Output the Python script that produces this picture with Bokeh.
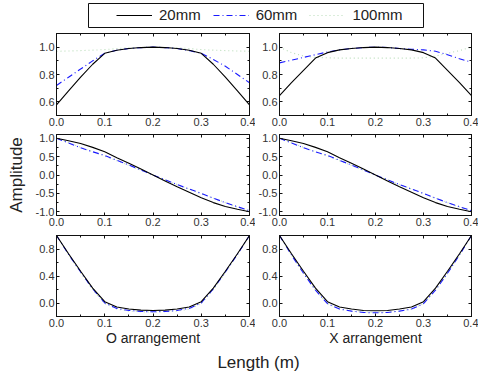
from bokeh.plotting import figure
from bokeh.layouts import column, row, gridplot
from bokeh.models import (Legend, LegendItem, LinearAxis, FixedTicker,
                          NumeralTickFormatter, CustomJSTickFormatter, Range1d, Label, Spacer)
from bokeh.embed import file_html
from bokeh.resources import INLINE

# ---------------- data ----------------
length_m = [0.0, 0.025, 0.05, 0.075, 0.1, 0.125, 0.15, 0.175, 0.2,
            0.225, 0.25, 0.275, 0.3, 0.325, 0.35, 0.375, 0.4]
series_labels = ["20mm", "60mm", "100mm"]
arrangements = ["O arrangement", "X arrangement"]
x_ticks = [0.0, 0.1, 0.2, 0.3, 0.4]
x_minor = [0.05, 0.15, 0.25, 0.35]

# mode 1
o1_20 = [0.578, 0.68, 0.78, 0.875, 0.955, 0.978, 0.99, 0.997, 1.0, 0.997, 0.99, 0.978, 0.955, 0.875, 0.78, 0.68, 0.578]
o1_60 = [0.72, 0.78, 0.84, 0.90, 0.955, 0.978, 0.99, 0.997, 1.0, 0.997, 0.99, 0.975, 0.955, 0.91, 0.86, 0.80, 0.74]
o1_100 = [0.97, 0.972, 0.975, 0.978, 0.982, 0.99, 0.995, 0.998, 1.0, 0.998, 0.995, 0.99, 0.982, 0.978, 0.975, 0.972, 0.97]
x1_20 = [0.645, 0.74, 0.83, 0.92, 0.96, 0.98, 0.99, 0.997, 1.0, 0.997, 0.99, 0.98, 0.96, 0.92, 0.83, 0.74, 0.645]
x1_60 = [0.885, 0.905, 0.925, 0.945, 0.965, 0.98, 0.99, 0.997, 1.0, 0.998, 0.99, 0.985, 0.98, 0.97, 0.945, 0.915, 0.89]
x1_100 = [1.0, 0.96, 0.935, 0.925, 0.922, 0.92, 0.92, 0.92, 0.92, 0.92, 0.92, 0.92, 0.922, 0.935, 0.955, 0.975, 1.0]

# mode 2
o2_20 = [1.0, 0.93, 0.855, 0.75, 0.63, 0.47, 0.32, 0.16, 0.0, -0.16, -0.32, -0.47, -0.62, -0.75, -0.855, -0.93, -1.0]
o2_60 = [1.0, 0.87, 0.74, 0.63, 0.53, 0.40, 0.27, 0.135, 0.0, -0.13, -0.26, -0.38, -0.50, -0.63, -0.75, -0.86, -0.97]
o2_100 = [1.0, 0.88, 0.75, 0.63, 0.51, 0.39, 0.26, 0.13, 0.0, -0.13, -0.26, -0.38, -0.51, -0.63, -0.75, -0.87, -0.98]
x2_20 = [1.0, 0.93, 0.855, 0.75, 0.63, 0.47, 0.32, 0.16, 0.0, -0.16, -0.32, -0.47, -0.62, -0.75, -0.855, -0.93, -1.0]
x2_60 = [1.0, 0.87, 0.74, 0.63, 0.53, 0.40, 0.27, 0.135, 0.0, -0.13, -0.26, -0.38, -0.50, -0.63, -0.75, -0.86, -0.97]
x2_100 = [1.0, 0.88, 0.75, 0.63, 0.51, 0.39, 0.26, 0.13, 0.0, -0.13, -0.26, -0.38, -0.51, -0.63, -0.75, -0.87, -0.98]

# mode 3
o3_20 = [1.0, 0.73, 0.47, 0.22, 0.02, -0.06, -0.09, -0.105, -0.11, -0.105, -0.09, -0.06, 0.02, 0.22, 0.47, 0.73, 1.0]
o3_60 = [1.0, 0.72, 0.46, 0.21, 0.0, -0.08, -0.11, -0.125, -0.13, -0.125, -0.11, -0.08, 0.0, 0.21, 0.46, 0.72, 1.0]
o3_100 = [1.0, 0.72, 0.45, 0.20, -0.01, -0.09, -0.12, -0.13, -0.135, -0.13, -0.12, -0.09, -0.01, 0.20, 0.45, 0.72, 1.0]
x3_20 = [1.0, 0.73, 0.47, 0.22, 0.02, -0.06, -0.09, -0.11, -0.115, -0.11, -0.09, -0.06, 0.02, 0.22, 0.47, 0.73, 1.0]
x3_60 = [1.0, 0.71, 0.44, 0.19, -0.01, -0.09, -0.12, -0.14, -0.145, -0.14, -0.12, -0.09, -0.01, 0.19, 0.44, 0.71, 1.0]
x3_100 = [1.0, 0.71, 0.44, 0.19, -0.01, -0.09, -0.12, -0.135, -0.14, -0.135, -0.12, -0.09, -0.01, 0.19, 0.44, 0.71, 1.0]

row_y_ranges = [(0.5, 1.1), (-1.1, 1.1), (-0.2, 1.0)]
row_y_major = [[0.6, 0.8, 1.0], [-1.0, -0.5, 0.0, 0.5, 1.0], [0.0, 0.4, 0.8]]
row_y_minor = [[0.5, 0.7, 0.9, 1.1], [-0.75, -0.25, 0.25, 0.75], [-0.2, 0.2, 0.6, 1.0]]

panel_data = [
    [(o1_20, o1_60, o1_100), (x1_20, x1_60, x1_100)],
    [(o2_20, o2_60, o2_100), (x2_20, x2_60, x2_100)],
    [(o3_20, o3_60, o3_100), (x3_20, x3_60, x3_100)],
]

# ---------------- styles ----------------
FONT = "Liberation Sans"
TXT = "#222222"
styles = [
    dict(line_color="#000000", line_width=1.1, line_dash="solid"),
    dict(line_color="#1a1aff", line_width=1.1, line_dash="6 3 1 3"),
    dict(line_color="#b8dcb8", line_width=1.1, line_dash="1 3"),
]
col_specs = [dict(width=255, left=56, right=6), dict(width=223, left=23, right=7)]
row_specs = [dict(height=100, top=3, bottom=15),
             dict(height=100, top=4, bottom=15),
             dict(height=118, top=5, bottom=32)]


def style_axis(ax, major_ticks, minor_ticks, show_labels=True):
    ax.ticker = FixedTicker(ticks=major_ticks, minor_ticks=minor_ticks)
    ax.major_tick_in = 3
    ax.major_tick_out = 0
    ax.minor_tick_in = 2
    ax.minor_tick_out = 0
    ax.axis_line_color = "#111111"
    ax.major_tick_line_color = "#111111"
    ax.minor_tick_line_color = "#111111"
    if show_labels:
        ax.formatter = NumeralTickFormatter(format="0.0")
        ax.major_label_text_font = FONT
        ax.major_label_text_font_size = "11px"
        ax.major_label_text_color = "#333333"
        ax.major_label_standoff = 2
    else:
        ax.formatter = CustomJSTickFormatter(code="return ''")
        ax.major_label_text_font_size = "0px"
        ax.major_label_standoff = 0


grid_children = []
for ri in range(3):
    row_children = []
    for ci in range(2):
        cs = col_specs[ci]
        rs = row_specs[ri]
        bottom_ax = LinearAxis()
        left_ax = LinearAxis()
        top_ax = LinearAxis()
        right_ax = LinearAxis()
        p = figure(width=cs["width"], height=rs["height"],
                   x_range=Range1d(0.0, 0.4), y_range=Range1d(*row_y_ranges[ri]),
                   output_backend="svg", toolbar_location=None,
                   x_axis_location=None, y_axis_location=None,
                   min_border_left=cs["left"], min_border_right=cs["right"],
                   min_border_top=rs["top"], min_border_bottom=rs["bottom"])
        p.grid.visible = False
        p.outline_line_color = "#111111"
        p.background_fill_color = "white"
        p.border_fill_color = "white"
        ys = panel_data[ri][ci]
        for si in [2, 1, 0]:
            p.line(length_m, ys[si], **styles[si])
        style_axis(bottom_ax, x_ticks, x_minor)
        style_axis(left_ax, row_y_major[ri], row_y_minor[ri])
        style_axis(top_ax, x_ticks, x_minor, show_labels=False)
        style_axis(right_ax, row_y_major[ri], row_y_minor[ri], show_labels=False)
        if ri == 2:
            bottom_ax.axis_label = arrangements[ci]
            bottom_ax.axis_label_text_font = FONT
            bottom_ax.axis_label_text_font_size = "14px"
            bottom_ax.axis_label_text_font_style = "normal"
            bottom_ax.axis_label_text_color = TXT
            bottom_ax.axis_label_standoff = 0
        if ri == 1 and ci == 0:
            left_ax.axis_label = "Amplitude"
            left_ax.axis_label_text_font = FONT
            left_ax.axis_label_text_font_size = "17px"
            left_ax.axis_label_text_font_style = "normal"
            left_ax.axis_label_text_color = TXT
            left_ax.axis_label_standoff = 7
        p.add_layout(bottom_ax, "below")
        p.add_layout(left_ax, "left")
        p.add_layout(top_ax, "above")
        p.add_layout(right_ax, "right")
        row_children.append(p)
    grid_children.append(row_children)

grid = gridplot(grid_children, toolbar_location=None)

# ---------------- legend strip ----------------
lp = figure(width=337, height=30, output_backend="svg", toolbar_location=None,
            x_axis_location=None, y_axis_location=None,
            x_range=Range1d(10, 11), y_range=Range1d(10, 11),
            min_border_left=1, min_border_right=1, min_border_top=3, min_border_bottom=3)
lp.grid.visible = False
lp.outline_line_color = "#111111"
items = []
legend_sources = [o1_20, o1_60, o1_100]
for si in range(3):
    r = lp.line(length_m, legend_sources[si], **styles[si])
    items.append(LegendItem(label=series_labels[si], renderers=[r]))
legend = Legend(items=items, orientation="horizontal", location=(28, 4),
                padding=0, margin=0, spacing=12, glyph_width=36, glyph_height=16,
                label_height=16, label_standoff=7, border_line_alpha=0,
                background_fill_alpha=0, label_text_font=FONT,
                label_text_font_size="15px", label_text_color=TXT)
lp.add_layout(legend, "center")
legend_row = row(Spacer(width=87, height=30), lp)

# ---------------- footer ----------------
fp = figure(width=478, height=26, output_backend="svg", toolbar_location=None,
            x_axis_location=None, y_axis_location=None,
            x_range=Range1d(0, 1), y_range=Range1d(0, 1),
            min_border_left=0, min_border_right=0, min_border_top=0, min_border_bottom=0)
fp.grid.visible = False
fp.outline_line_color = None
fp.add_layout(Label(x=258, y=12, x_units="screen", y_units="screen", text="Length (m)",
                    text_font=FONT, text_font_size="17px", text_color=TXT,
                    text_align="center", text_baseline="middle"))

layout = column(legend_row, grid, fp)
open("out.html", "w").write(file_html(layout, INLINE))
